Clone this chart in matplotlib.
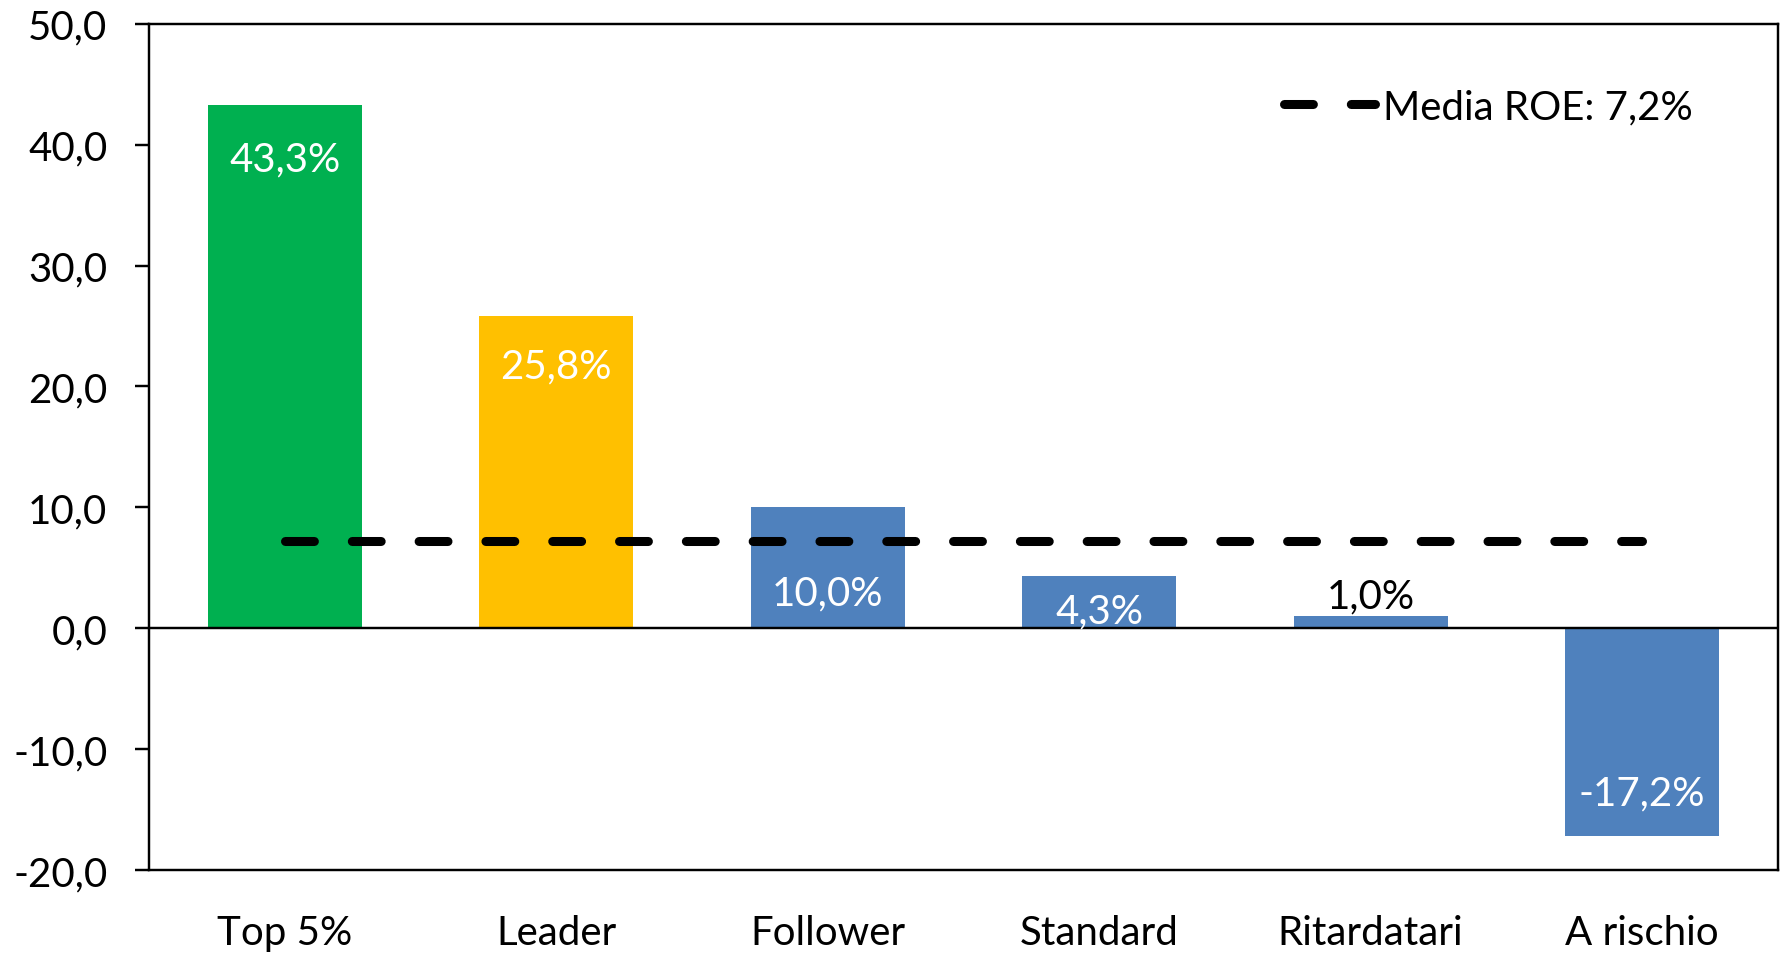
import matplotlib
matplotlib.use("Agg")
import matplotlib.pyplot as plt
from matplotlib.ticker import FuncFormatter

# ROE per cluster di imprese
categorie = ["Top 5%", "Leader", "Follower", "Standard", "Ritardatari", "A rischio"]
roe = [43.3, 25.8, 10.0, 4.3, 1.0, -17.2]
media_roe = 7.2

colori = ["#00B050", "#FFC000", "#4F81BD", "#4F81BD", "#4F81BD", "#4F81BD"]
# spostamento delle etichette rispetto alla cima della barra
scarto_etichette = [-4.45, -4.07, -7.08, -2.89, 1.63, 3.56]
colore_etichette = ["white", "white", "white", "white", "black", "white"]

plt.rcParams['font.family'] = ['Lato', 'DejaVu Sans']

fig = plt.figure(figsize=(17.85, 9.54), dpi=100)
ax = fig.add_axes([0.0835, 0.087, 0.9125, 0.887])

x = range(len(categorie))
ax.bar(x, roe, width=0.567, color=colori, zorder=2)

for i, v in enumerate(roe):
    testo = f"{v:.1f}%".replace(".", ",")
    ax.text(i, v + scarto_etichette[i], testo, ha="center", va="center",
            fontsize=29, color=colore_etichette[i], zorder=4)

ax.plot([0, len(categorie) - 1], [media_roe, media_roe], color="black", lw=6.5,
        dashes=(3.2, 4.2), dash_capstyle="round", zorder=3,
        label="Media ROE: " + f"{media_roe:.1f}%".replace(".", ","))

ax.axhline(0, color="black", lw=1.75, zorder=3)

ax.set_xlim(-0.5, len(categorie) - 0.5)
ax.set_ylim(-20, 50)
ax.set_yticks(range(-20, 51, 10))
ax.yaxis.set_major_formatter(FuncFormatter(lambda v, p: f"{v:.1f}".replace(".", ",")))
ax.set_xticks(list(x))
ax.set_xticklabels(categorie)
ax.tick_params(axis="x", length=0, pad=32, labelsize=29)
ax.tick_params(axis="y", length=10, width=1.75, direction="out", pad=20, labelsize=29)

for s in ax.spines.values():
    s.set_linewidth(1.75)
    s.set_color("black")

leg = ax.legend(loc="center left", bbox_to_anchor=(0.697, 0.902), frameon=False,
                fontsize=29, handlelength=2.24, handletextpad=0.2,
                borderpad=0, borderaxespad=0)

fig.savefig("out.png", dpi=100)
